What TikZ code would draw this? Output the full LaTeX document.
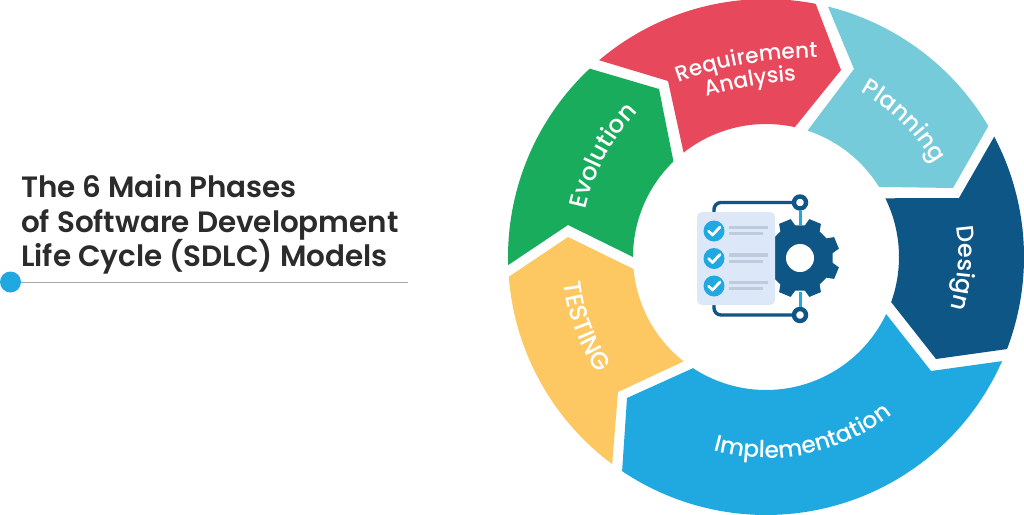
\documentclass[tikz,border=0pt]{standalone}
\usepackage{fontspec}
\usetikzlibrary{decorations.text}
\setmainfont{Poppins}
\newfontfamily\titlefont{Poppins SemiBold}
\newfontfamily\labelfont{Poppins Medium}
\definecolor{cred}{HTML}{E8485C}
\definecolor{ccyan}{HTML}{76CBDB}
\definecolor{cnavy}{HTML}{0E5686}
\definecolor{cblue}{HTML}{20A9E1}
\definecolor{cyel}{HTML}{FDC862}
\definecolor{cgreen}{HTML}{1AAC5D}
\definecolor{cdoc}{HTML}{DCE8F7}
\definecolor{cbar}{HTML}{BDCBDC}
\definecolor{cink}{HTML}{2B2B2B}
% clockwise label: letters point away from the arc centre
\newcommand{\toplabel}[6]{%
 \begin{scope}[shift={(#1,#2)},rotate=#3]
 \path[postaction={decorate},decoration={text along path,text align=center,
   text={|\labelfont\fontsize{#5pt}{#5pt}\selectfont\color{white}|#6}}]
   ({-#4*sin(50)},{#4*cos(50)-#4}) arc[start angle=140,end angle=40,radius=#4];
 \end{scope}}
% counter-clockwise label: letters point towards the arc centre
\newcommand{\botlabel}[6]{%
 \begin{scope}[shift={(#1,#2)},rotate=#3]
 \path[postaction={decorate},decoration={text along path,text align=center,
   text={|\labelfont\fontsize{#5pt}{#5pt}\selectfont\color{white}|#6}}]
   ({-#4*sin(50)},{#4-#4*cos(50)}) arc[start angle=220,end angle=320,radius=#4];
 \end{scope}}
\tikzset{x=1pt,y=1pt,
 titleline/.style={anchor=base west,inner sep=0pt,text=cink,font=\titlefont\fontsize{29.4pt}{29.4pt}\selectfont},
 navyline/.style={draw=cnavy,line width=3.4pt,rounded corners=7pt},
 tickline/.style={draw=white,line width=2.8pt,line cap=round,line join=round},
 barline/.style={draw=cbar,line width=3.2pt},
 ringdot/.style={circle,draw=cnavy,fill=white,line width=4.4pt,minimum size=12pt,inner sep=0pt},
 checkdot/.style={circle,fill=cblue,minimum size=21pt,inner sep=0pt}}
\begin{document}
\begin{tikzpicture}
\useasboundingbox[fill=white] (0,-514) rectangle (1024,0);
% title
\node[titleline] (t1) at (21,-197) {The 6 Main Phases};
\node[titleline] (t2) at (21,-232) {of Software Development};
\node[titleline] (t3) at (21,-266) {Life Cycle (SDLC) Models};
\node[circle,fill=cblue,minimum size=21pt,inner sep=0pt] (dot) at (10.5,-282) {};
\coordinate (ruleend) at (408,-282);
\draw[draw=black!35,line width=1pt] (dot) -- (ruleend);
% wheel
\begin{scope}[shift={(766,-257)}]
\fill[cred] (130.3:258) arc[start angle=130.3,end angle=78.9,radius=258] -- (75,187) -- (77.5:133) arc[start angle=77.5,end angle=128.3,radius=133] -- (-98,176) -- cycle;
\fill[ccyan] (76.1:258) arc[start angle=76.1,end angle=30.5,radius=258] -- (187,69) -- (31.8:133) arc[start angle=31.8,end angle=71.8,radius=133] -- (88,188) -- cycle;
\fill[cnavy] (27.8:258) arc[start angle=27.8,end angle=-20.9,radius=258] -- (170,-102) -- (-19.8:133) arc[start angle=-19.8,end angle=26.2,radius=133] -- (193,59) -- cycle;
\fill[cblue] (-23.8:258) arc[start angle=-23.8,end angle=-123.9,radius=258] -- (-139,-141) -- (-123.3:133) arc[start angle=-123.3,end angle=-25.4,radius=133] -- (165,-114) -- cycle;
\fill[cyel] (233.4:258) arc[start angle=233.4,end angle=184.4,radius=258] -- (-198,20) -- (185.2:133) arc[start angle=185.2,end angle=231.7,radius=133] -- (-148,-135) -- cycle;
\fill[cgreen] (181.8:258) arc[start angle=181.8,end angle=133.1,radius=258] -- (-107,168) -- (134.1:133) arc[start angle=134.1,end angle=180,radius=133] -- (-198,32) -- cycle;
% labels
\toplabel{-19}{193}{10}{400}{21.7}{Requirement}
\toplabel{-15}{171}{10}{400}{21.7}{Analysis}
\toplabel{136}{134}{-44.6}{190}{23.5}{Planning}
\toplabel{192}{-11}{-94}{188}{24}{Design}
\toplabel{-161}{100}{62}{200}{24.5}{Evolution}
\botlabel{-191}{-73}{-69.4}{202}{24.5}{TESTING}
\botlabel{41}{-197}{11.5}{201}{23.3}{Implementation}
\end{scope}
% icon
\node[ringdot] (rtop) at (800,-202.5) {};
\node[ringdot] (rbot) at (800,-315) {};
\coordinate (dtop) at (714,-212);
\coordinate (dbot) at (714,-305);
\draw[navyline] (dtop) |- (rtop);
\draw[navyline] (dbot) |- (rbot);
\coordinate (gtop) at (800,-225);
\coordinate (gbot) at (800,-292);
\draw[cblue,line width=3pt] (rtop) -- (gtop);
\draw[cblue,line width=3pt] (rbot) -- (gbot);
\begin{scope}[shift={(800,-258)}]
\fill[cnavy] (8.5:33) \foreach \a in {22.5,67.5,112.5,157.5,202.5,247.5,292.5,337.5} { -- (\a-14:33) -- (\a-9:40) -- (\a+9:40) -- (\a+14:33) } -- cycle;
\fill[white] (0,0) circle[radius=14];
\end{scope}
\fill[cdoc,rounded corners=5pt] (697,-212) rectangle (775,-305);
\foreach \n/\y in {a/231,b/258.5,c/286}{
 \node[checkdot] (chk\n) at (714,-\y) {};
 \draw[tickline] (708.5,-\y) -- (712.5,-\y-4) -- (720,-\y+4);
 \draw[barline] (729,-\y+3.5) -- (768,-\y+3.5);
 \draw[barline] (729,-\y-2.8) -- (763,-\y-2.8);
}
\end{tikzpicture}
\end{document}
